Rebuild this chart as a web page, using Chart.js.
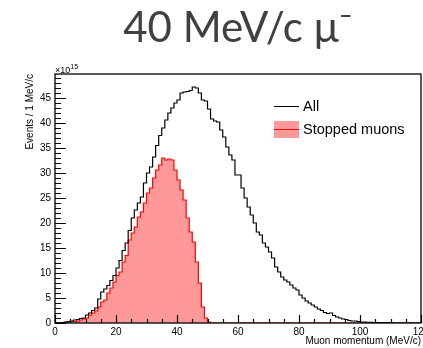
<!DOCTYPE html>
<html>
<head>
<meta charset="utf-8">
<script src="https://cdn.jsdelivr.net/npm/chart.js@4.4.1/dist/chart.umd.min.js"></script>
<style>
  html, body { margin: 0; padding: 0; background: #fff; }
</style>
</head>
<body>
<canvas id="chart" width="423" height="348"></canvas>
<script>
// Muon momentum histograms, 1 MeV/c bins from 0 to 120 MeV/c.
// Values are in units of 1e15 events per bin.
const TITLE = '40 MeV/c μ⁻';
const X_TITLE = 'Muon momentum (MeV/c)';
const Y_TITLE = 'Events / 1 MeV/c';
const Y_EXPONENT = '15';

const BIN_WIDTH = 1;
const X_TICKS = [0, 20, 40, 60, 80, 100, 120];
const Y_TICKS = [0, 5, 10, 15, 20, 25, 30, 35, 40, 45];

const ALL_LABEL = 'All';
const ALL_COUNTS = [
  0, 0, 0.1, 0.2, 0.3, 0.4, 0.6, 0.7, 0.9, 1.0,
  1.6, 2.0, 2.5, 3.0, 4.8, 6.2, 6.8, 7.5, 8.5, 9.5,
  11.0, 12.5, 14.5, 16.0, 18.5, 21.0, 22.6, 24.0, 25.2, 28.0,
  30.0, 31.2, 33.2, 35.5, 37.5, 39.0, 40.6, 42.0, 43.0, 44.0,
  44.6, 46.0, 46.2, 46.3, 46.5, 47.2, 47.0, 46.0, 44.6, 44.4,
  42.8, 40.8, 40.4, 40.2, 38.6, 37.2, 35.2, 33.6, 32.6, 29.6,
  29.6, 27.0, 25.0, 23.2, 21.6, 20.0, 18.2, 17.6, 16.0, 15.2,
  14.2, 13.0, 11.2, 10.2, 9.2, 8.6, 8.2, 7.6, 7.0, 6.6,
  5.6, 5.0, 4.4, 4.0, 3.6, 3.2, 2.8, 2.5, 2.1, 1.9,
  2.0, 1.5, 1.2, 1.0, 0.8, 0.7, 0.5, 0.4, 0.4, 0.3,
  0.2, 0.2, 0.15, 0.15, 0.1, 0.1, 0.1, 0.1, 0.1, 0.1,
  0, 0, 0, 0, 0, 0, 0, 0, 0, 0,
];

const STOPPED_LABEL = 'Stopped muons';
const STOPPED_COUNTS = [
  0, 0, 0, 0.1, 0.2, 0.3, 0.3, 0.4, 0.6, 0.8,
  1.0, 1.6, 2.0, 2.4, 3.2, 4.2, 4.6, 6.0, 7.0, 8.2,
  9.5, 10.2, 12.2, 13.5, 16.6, 18.0, 19.2, 21.2, 22.2, 24.0,
  26.0, 27.0, 29.0, 30.6, 31.6, 33.0, 32.6, 32.8, 32.6, 30.6,
  28.6, 26.6, 24.6, 21.0, 18.2, 16.2, 12.2, 8.0, 3.2, 1.0,
  0.2, 0, 0, 0, 0, 0, 0, 0, 0, 0,
  0, 0, 0, 0, 0, 0, 0, 0, 0, 0,
  0, 0, 0, 0, 0, 0, 0, 0, 0, 0,
  0, 0, 0, 0, 0, 0, 0, 0, 0, 0,
  0, 0, 0, 0, 0, 0, 0, 0, 0, 0,
  0, 0, 0, 0, 0, 0, 0, 0, 0, 0,
  0, 0, 0, 0, 0, 0, 0, 0, 0, 0,
];

const ROOT_FONT = '"Liberation Sans", Arial, sans-serif';

// Turn bin contents into an outline: one point at each edge of every bin.
function histogramPoints(counts) {
  const pts = [];
  counts.forEach((v, i) => {
    pts.push({ x: i * BIN_WIDTH, y: v });
    pts.push({ x: (i + 1) * BIN_WIDTH, y: v });
  });
  return pts;
}

// ROOT-like frame: box, inward ticks with minor divisions, exponent and legend.
const rootFrame = {
  id: 'rootFrame',
  afterDatasetsDraw(chart) {
    const { ctx, chartArea: a, scales: { x, y } } = chart;
    ctx.save();
    ctx.strokeStyle = '#000';
    ctx.lineWidth = 1.3;
    ctx.strokeRect(a.left, a.top, a.right - a.left, a.bottom - a.top);

    ctx.lineWidth = 1.2;
    ctx.beginPath();
    for (let v = 0; v <= y.max; v += 1) {
      const py = Math.round(y.getPixelForValue(v)) + 0.5;
      const len = v % 5 === 0 ? 11 : 6;
      ctx.moveTo(a.left, py);
      ctx.lineTo(a.left + len, py);
    }
    for (let v = 0; v <= x.max; v += 5) {
      const px = Math.round(x.getPixelForValue(v)) + 0.5;
      const len = v % 20 === 0 ? 8 : 4;
      ctx.moveTo(px, a.bottom);
      ctx.lineTo(px, a.bottom - len);
    }
    ctx.stroke();

    // x10^15 multiplier above the y axis
    ctx.fillStyle = '#000';
    ctx.textBaseline = 'alphabetic';
    ctx.textAlign = 'left';
    ctx.font = '9px ' + ROOT_FONT;
    ctx.fillText('×10', a.left, a.top - 1);
    const w = ctx.measureText('×10').width;
    ctx.font = '7px ' + ROOT_FONT;
    ctx.fillText(Y_EXPONENT, a.left + w, a.top - 5);

    // legend
    const lx = a.left + 219;
    const sw = 25;
    const ds = chart.data.datasets;
    const rows = [a.top + 32, a.top + 55];
    ctx.font = '14.5px ' + ROOT_FONT;
    ctx.textBaseline = 'middle';
    ds.forEach((d, i) => {
      const ry = rows[i];
      if (d.fill) {
        ctx.fillStyle = d.backgroundColor;
        ctx.fillRect(lx, ry - 8, sw, 17);
      }
      ctx.strokeStyle = d.borderColor;
      ctx.lineWidth = 1;
      ctx.beginPath();
      ctx.moveTo(lx, ry + 0.5);
      ctx.lineTo(lx + sw, ry + 0.5);
      ctx.stroke();
      ctx.fillStyle = '#000';
      ctx.fillText(d.label, lx + sw + 4, ry + 1);
    });
    ctx.restore();
  },
};

const ctx = document.getElementById('chart').getContext('2d');
new Chart(ctx, {
  type: 'line',
  data: {
    datasets: [
      {
        label: ALL_LABEL,
        data: histogramPoints(ALL_COUNTS),
        borderColor: '#000000',
        borderWidth: 1.2,
        pointRadius: 0,
        fill: false,
        order: 0,
      },
      {
        label: STOPPED_LABEL,
        data: histogramPoints(STOPPED_COUNTS),
        borderColor: '#ff0000',
        backgroundColor: '#ff9999',
        borderWidth: 1.2,
        pointRadius: 0,
        fill: 'origin',
        order: 1,
      },
    ],
  },
  options: {
    responsive: false,
    animation: false,
    devicePixelRatio: 1,
    layout: { padding: { left: 0, right: 2, top: 0, bottom: 0 } },
    elements: { line: { tension: 0 } },
    plugins: {
      legend: { display: false },
      tooltip: { enabled: false },
      title: {
        display: true,
        text: TITLE,
        fullSize: false,
        color: '#404040',
        font: { family: 'Lato, "Open Sans", sans-serif', size: 42, weight: 'normal', lineHeight: 1 },
        padding: { top: 7, bottom: 25 },
      },
    },
    scales: {
      x: {
        type: 'linear',
        min: 0,
        max: 120,
        grid: { display: false, drawTicks: false },
        border: { display: false },
        afterBuildTicks: (s) => { s.ticks = X_TICKS.map(v => ({ value: v })); },
        afterFit: (s) => { s.height = 25; s.paddingLeft = 0; s.paddingRight = 0; },
        ticks: {
          autoSkip: false,
          maxRotation: 0,
          padding: 3,
          color: '#000',
          font: { family: ROOT_FONT, size: 10 },
        },
        title: {
          display: true,
          text: X_TITLE,
          align: 'end',
          color: '#000',
          font: { family: ROOT_FONT, size: 10 },
          padding: { top: 0, bottom: 1 },
        },
      },
      y: {
        type: 'linear',
        min: 0,
        max: 49.8,
        grid: { display: false, drawTicks: false },
        border: { display: false },
        afterBuildTicks: (s) => { s.ticks = Y_TICKS.map(v => ({ value: v })); },
        afterFit: (s) => { s.width = 55; s.paddingTop = 0; s.paddingBottom = 0; },
        ticks: {
          autoSkip: false,
          padding: 4,
          color: '#000',
          font: { family: ROOT_FONT, size: 10 },
        },
        title: {
          display: true,
          text: Y_TITLE,
          align: 'end',
          color: '#000',
          font: { family: ROOT_FONT, size: 10 },
          padding: { top: 24, bottom: 0 },
        },
      },
    },
  },
  plugins: [rootFrame],
});
</script>
</body>
</html>
